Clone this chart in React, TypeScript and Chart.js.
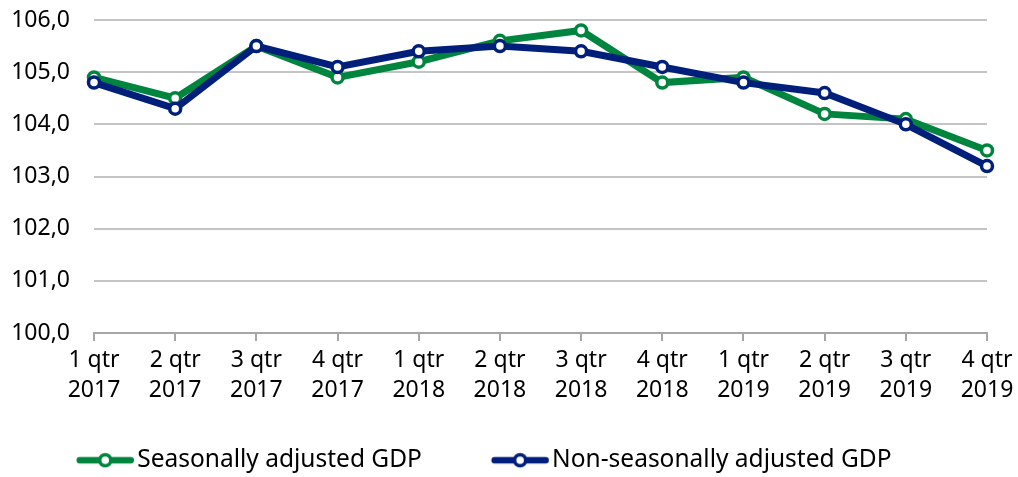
import React, { useEffect, useRef } from "react";
import { Chart, registerables } from "chart.js";

Chart.register(...registerables);

const quarters = ["1 qtr", "2 qtr", "3 qtr", "4 qtr", "1 qtr", "2 qtr", "3 qtr", "4 qtr", "1 qtr", "2 qtr", "3 qtr", "4 qtr"];
const years = ["2017", "2017", "2017", "2017", "2018", "2018", "2018", "2018", "2019", "2019", "2019", "2019"];
const seasonallyAdjusted = [104.9, 104.5, 105.5, 104.9, 105.2, 105.6, 105.8, 104.8, 104.9, 104.2, 104.1, 103.5];
const nonSeasonallyAdjusted = [104.8, 104.3, 105.5, 105.1, 105.4, 105.5, 105.4, 105.1, 104.8, 104.6, 104.0, 103.2];
const seriesNames = ["Seasonally adjusted GDP", "Non-seasonally adjusted GDP"];

const GREEN = "#00853e";
const NAVY = "#001f7a";
const FONT = "'Noto Sans', 'Open Sans', sans-serif";

const LEGEND_FONT = 24.5;
const LEGEND_BOX = 108;
const MARKER_CANVAS_W = 140;

function legendMarker(color: string): HTMLCanvasElement {
  const c = document.createElement("canvas");
  c.width = MARKER_CANVAS_W;
  c.height = 20;
  const ctx = c.getContext("2d")!;
  // canvas is centred on the legend box; marker sits at the right end of the box
  const canvasLeft = LEGEND_BOX / 2 - MARKER_CANVAS_W / 2;
  const textStart = LEGEND_BOX + LEGEND_FONT / 2;
  const end = textStart - 3.5 - canvasLeft;
  const start = end - 57;
  const cy = 10;
  ctx.strokeStyle = color;
  ctx.lineWidth = 6.5;
  ctx.lineCap = "round";
  ctx.beginPath();
  ctx.moveTo(start + 3, cy);
  ctx.lineTo(end - 3, cy);
  ctx.stroke();
  ctx.beginPath();
  ctx.arc((start + end) / 2, cy, 5.5, 0, Math.PI * 2);
  ctx.fillStyle = "#ffffff";
  ctx.fill();
  ctx.lineWidth = 3.5;
  ctx.stroke();
  return c;
}

export default function App() {
  const ref = useRef<HTMLCanvasElement | null>(null);

  useEffect(() => {
    if (!ref.current) return;
    const labels = quarters.map((q, i) => [q, years[i]]);
    const common = {
      borderWidth: 7,
      pointRadius: 5.5,
      pointBorderWidth: 3.5,
      pointBackgroundColor: "#ffffff",
      pointStyle: "circle",
      tension: 0,
      backgroundColor: "#ffffff",
    };
    const chart = new Chart(ref.current, {
      type: "line",
      data: {
        labels,
        datasets: [
          {
            ...common,
            label: seriesNames[0],
            data: seasonallyAdjusted,
            borderColor: GREEN,
            pointBorderColor: GREEN,
            order: 1,
          },
          {
            ...common,
            label: seriesNames[1],
            data: nonSeasonallyAdjusted,
            borderColor: NAVY,
            pointBorderColor: NAVY,
            order: 0,
          },
        ] as any,
      },
      options: {
        animation: false,
        responsive: true,
        maintainAspectRatio: false,
        layout: { padding: { top: 20, right: 31, bottom: 0, left: 7 } },
        plugins: {
          tooltip: { enabled: false },
          legend: {
            position: "bottom",
            align: "start",
            maxHeight: 39,
            labels: {
              color: "#000000",
              font: { family: FONT, size: LEGEND_FONT },
              padding: 10,
              usePointStyle: true,
              pointStyleWidth: LEGEND_BOX,
              boxHeight: 18,
              sort: (a: any, b: any) => a.datasetIndex - b.datasetIndex,
              generateLabels: (ch: any) =>
                ch.data.datasets.map((ds: any, i: number) => ({
                  text: ds.label,
                  datasetIndex: i,
                  fillStyle: ds.borderColor,
                  strokeStyle: ds.borderColor,
                  lineWidth: 0,
                  pointStyle: legendMarker(ds.borderColor),
                  hidden: false,
                  fontColor: "#000000",
                })),
            },
          },
        },
        scales: {
          x: {
            offset: false,
            afterFit: (scale: any) => {
              scale.height = 105;
            },
            grid: {
              display: true,
              drawOnChartArea: false,
              drawTicks: true,
              tickLength: 8,
              color: "#a6a6a6",
              lineWidth: 2,
            },
            border: { display: true, color: "#a6a6a6", width: 2 },
            ticks: {
              color: "#000000",
              font: { family: FONT, size: 23, lineHeight: 1.33 },
              padding: 4,
              maxRotation: 0,
              autoSkip: false,
            },
          },
          y: {
            min: 100,
            max: 106,
            afterFit: (scale: any) => {
              scale.width = 87;
            },
            grid: {
              color: "#c4c4c4",
              lineWidth: 2,
              drawTicks: true,
              tickLength: 24,
              tickColor: "rgba(0,0,0,0)",
            },
            border: { display: false },
            ticks: {
              stepSize: 1,
              padding: 0,
              color: "#000000",
              font: { family: FONT, size: 23 },
              callback: (v: any) => Number(v).toFixed(1).replace(".", ","),
            },
          },
        },
      },
    });
    return () => chart.destroy();
  }, []);

  return (
    <div style={{ position: "fixed", left: 0, top: 0, width: 1018, height: 477, background: "#ffffff" }}>
      <canvas ref={ref} />
    </div>
  );
}
